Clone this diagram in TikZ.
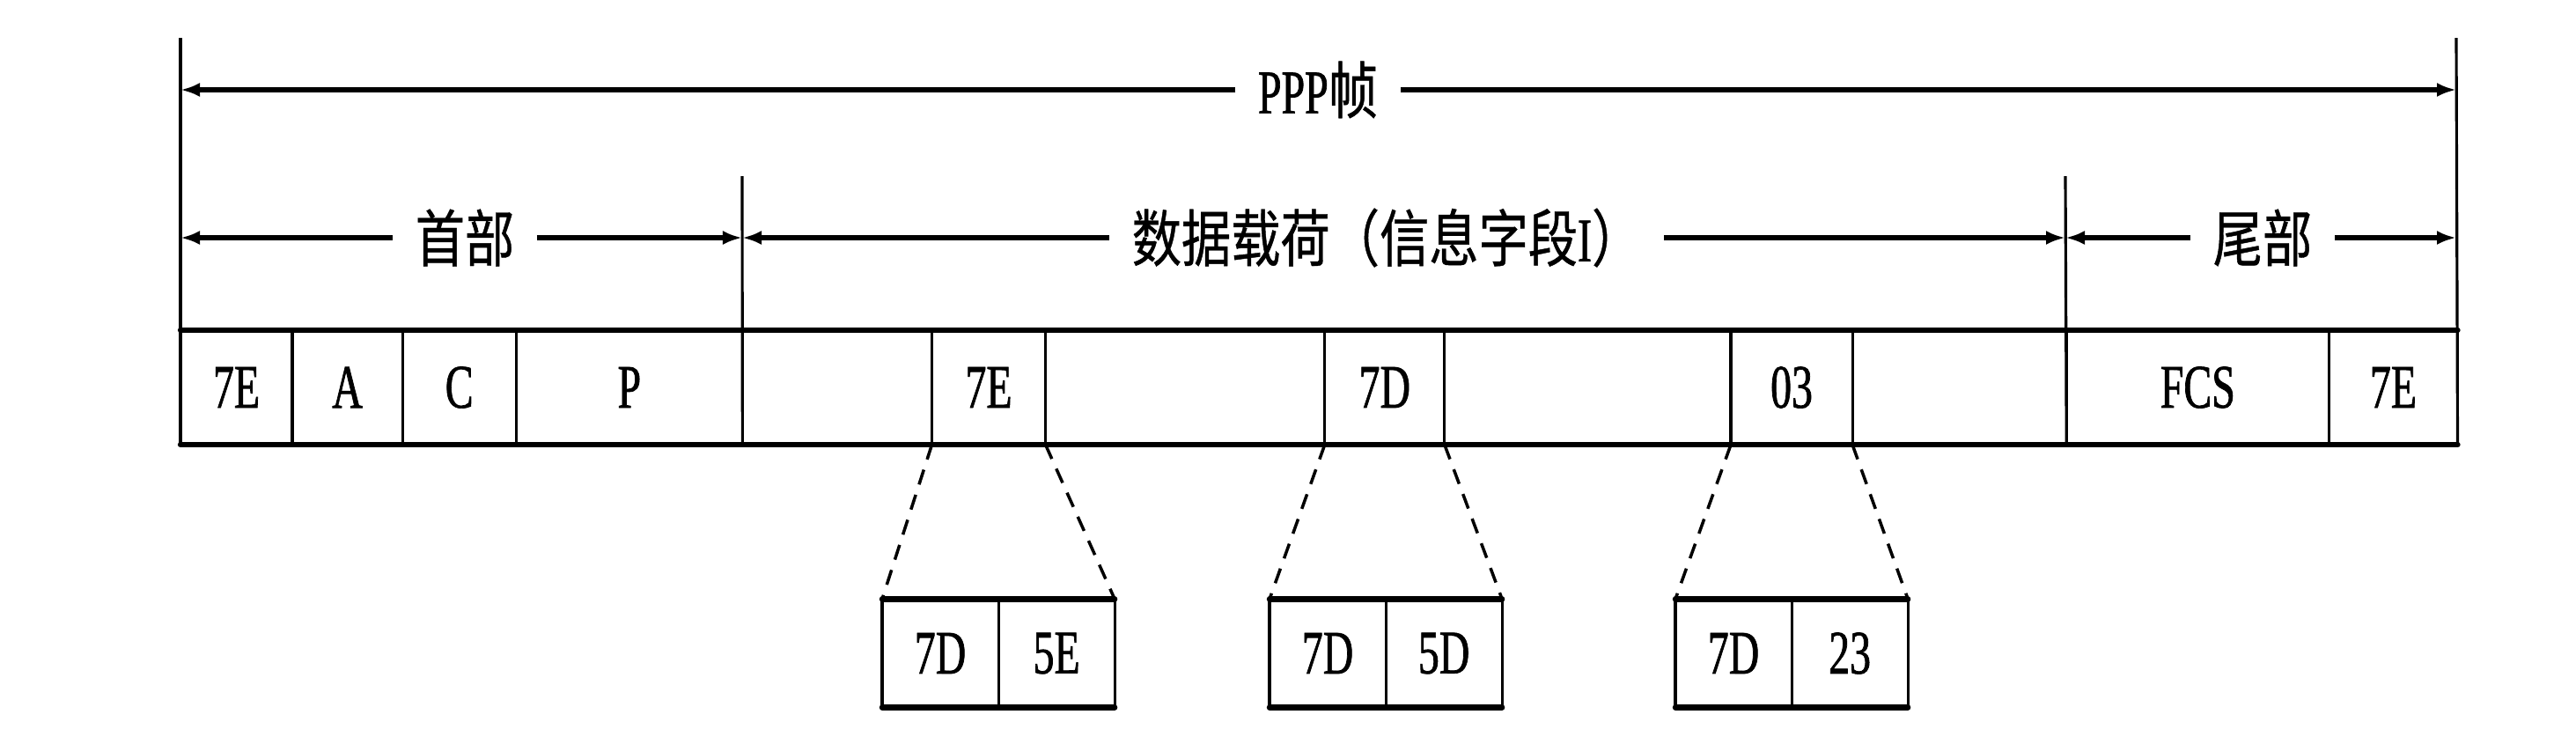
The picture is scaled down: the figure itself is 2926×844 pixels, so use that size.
\documentclass[tikz,border=0pt]{standalone}
\usepackage{fontspec}
\setmainfont{Liberation Serif}[FakeStretch=0.68, FakeBold=1]
\newfontfamily\cjk{Noto Sans CJK SC}[FakeStretch=0.8, FakeBold=0.6]
\usetikzlibrary{positioning, arrows.meta}

\begin{document}
\begin{tikzpicture}[
    x=0.01cm, y=-0.01cm,
    field/.style={draw, line width=0.9pt, outer sep=0pt, inner sep=0pt, minimum height=1.3cm, font=\fontsize{20}{24}\selectfont},
    subcell/.style={field, minimum width=1.32cm, minimum height=1.23cm},
    hrule/.style={line width=1.8pt, line cap=round},
    bound/.style={line width=0.9pt},
    dimarrow/.style={line width=1.5pt, -{Latex[length=0.22cm, width=0.16cm]}},
    dimtext/.style={inner xsep=0.25cm, font=\fontsize{20}{24}\selectfont},
    zoomlink/.style={line width=1pt, dash pattern=on 5pt off 3.5pt},
]
\useasboundingbox (0,0) rectangle (2926,844);

% Row of fields
\node[field, minimum width=1.27cm, anchor=west] (f1) at (205,440) {7E};
\node[field, minimum width=1.25cm, right=0pt of f1] (f2) {A};
\node[field, minimum width=1.29cm, right=0pt of f2] (f3) {C};
\node[field, minimum width=2.57cm, right=0pt of f3] (f4) {P};
\node[field, minimum width=2.15cm, right=0pt of f4] (d1) {};
\node[field, minimum width=1.29cm, right=0pt of d1] (d2) {7E};
\node[field, minimum width=3.17cm, right=0pt of d2] (d3) {};
\node[field, minimum width=1.36cm, right=0pt of d3] (d4) {7D};
\node[field, minimum width=3.25cm, right=0pt of d4] (d5) {};
\node[field, minimum width=1.38cm, right=0pt of d5] (d6) {03};
\node[field, minimum width=2.43cm, right=0pt of d6] (d7) {};
\node[field, minimum width=2.98cm, right=0pt of d7] (t1) {FCS};
\node[field, minimum width=1.46cm, right=0pt of t1] (t2) {7E};

\draw[hrule] (f1.north west) -- (t2.north east);
\draw[hrule] (f1.south west) -- (t2.south east);

% Boundaries
\coordinate (topL) at (205,43);
\coordinate (topR) at (2790,43);
\coordinate (midA) at (843,200);
\coordinate (midB) at (2346,200);
\draw[bound] (topL) -- (f1.south west);
\draw[bound] (topR) -- (t2.south east);
\draw[bound] (midA) -- (d1.south west);
\draw[bound] (midB) -- (t1.south west);

% Row 1: whole frame
\node[dimtext] (frame) at (1497,102) {PPP{\cjk 帧}};
\draw[dimarrow] (frame.west) -- (topL |- frame);
\draw[dimarrow] (frame.east) -- (topR |- frame);

% Row 2: header, payload, trailer
\node[dimtext] (head) at (528,270) {\cjk 首部};
\draw[dimarrow] (head.west) -- (topL |- head);
\draw[dimarrow] (head.east) -- (midA |- head);

\node[dimtext] (data) at (1575,270) {{\cjk 数据载荷（信息字段}I{\cjk ）}};
\draw[dimarrow] (data.west) -- (midA |- data);
\draw[dimarrow] (data.east) -- (midB |- data);

\node[dimtext] (tail) at (2570,270) {\cjk 尾部};
\draw[dimarrow] (tail.west) -- (midB |- tail);
\draw[dimarrow] (tail.east) -- (topR |- tail);

% Escaped bytes
\node[subcell, anchor=west] (e1) at (1002,742) {7D};
\node[subcell, right=0pt of e1] (e2) {5E};
\node[subcell, anchor=west] (g1) at (1442,742) {7D};
\node[subcell, right=0pt of g1] (g2) {5D};
\node[subcell, anchor=west] (h1) at (1903,742) {7D};
\node[subcell, right=0pt of h1] (h2) {23};

\foreach \a/\b in {e1/e2, g1/g2, h1/h2} {
  \draw[hrule] (\a.north west) -- (\b.north east);
  \draw[hrule] (\a.south west) -- (\b.south east);
}

\draw[zoomlink] (d2.south west) -- (e1.north west);
\draw[zoomlink] (d2.south east) -- (e2.north east);
\draw[zoomlink] (d4.south west) -- (g1.north west);
\draw[zoomlink] (d4.south east) -- (g2.north east);
\draw[zoomlink] (d6.south west) -- (h1.north west);
\draw[zoomlink] (d6.south east) -- (h2.north east);

\end{tikzpicture}
\end{document}
